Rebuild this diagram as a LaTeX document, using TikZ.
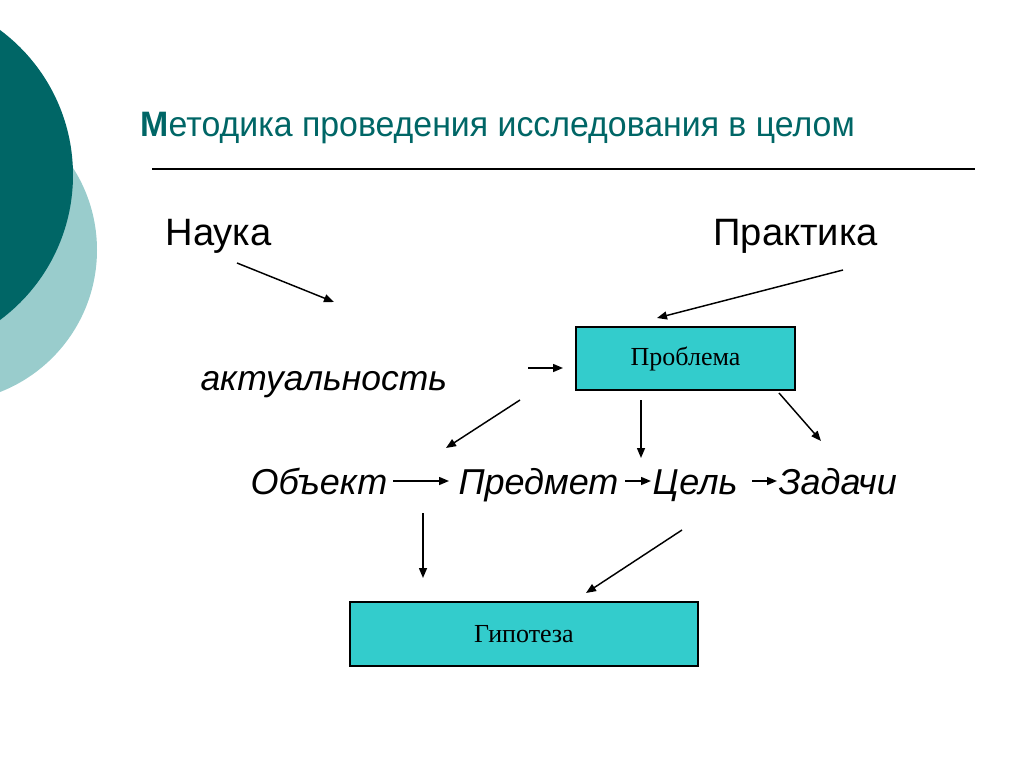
\documentclass[tikz,border=0pt]{standalone}
\usepackage{fontspec}
\setmainfont{Liberation Sans}
\newfontfamily\boxfont{Liberation Serif}
\usetikzlibrary{arrows.meta}
\definecolor{darkteal}{RGB}{0,102,102}
\definecolor{lightteal}{RGB}{153,204,204}
\definecolor{boxteal}{RGB}{51,204,204}
\tikzset{every picture/.style={line width=0.75pt}}
\tikzset{
  arr/.style={-{Triangle[length=7.5pt,width=6pt]}, line width=1.1pt},
  word/.style={anchor=base west, inner sep=0pt, font=\fontsize{28.6}{30}\selectfont},
  wordit/.style={anchor=base west, inner sep=0pt, font=\fontsize{27}{30}\selectfont\itshape},
  tealbox/.style={draw, fill=boxteal, line width=0.9pt, outer sep=0pt, font=\boxfont\fontsize{19.5}{21}\selectfont},
}

\begin{document}
\begin{tikzpicture}[x=0.75pt,y=0.75pt,yscale=-1,xscale=1]
\useasboundingbox (0,0) rectangle (1024,767);
%Circles
\begin{scope}
\clip (0,0) rectangle (1024,767);
\fill [lightteal] (-55.4,250) circle [radius=152.4];
\fill [darkteal] (-107.5,175) circle [radius=180.5];
\end{scope}
% Title
\node (title) [anchor=base west, inner sep=0pt, text=darkteal, font=\fontsize{26.5}{28}\selectfont] at (140,136) {\scalebox{0.958}[1]{{\bfseries М}етодика проведения исследования в целом}};
%Straight Lines
\coordinate (rulea) at (152,169);
\coordinate (ruleb) at (975,169);
\draw [line width=1.1pt] (rulea) -- (ruleb);
% Text Node
\node (nauka) [word] at (165,245) {Наука};
\node (praktika) [word] at (713,245) {Практика};
\node (aktual) [wordit, font=\fontsize{26.6}{30}\selectfont\itshape] at (200,390) {актуальность};
\node (obekt) [wordit] at (250,494) {Объект};
\node (predmet) [wordit] at (458,494) {Предмет};
\node (cel) [wordit] at (652,494) {Цель};
\node (zadachi) [wordit] at (778,494) {Задачи};
% Boxes
\node (problema) [tealbox, minimum width=164.25pt, minimum height=47.25pt] at (685.5,358.5) {Проблема};
\node (gipoteza) [tealbox, minimum width=261pt, minimum height=48pt] at (524,634) {Гипотеза};
% Arrows
\coordinate (a1s) at (237,263); \coordinate (a1e) at (334,302);
\coordinate (a2s) at (843,270); \coordinate (a2e) at (657,318);
\coordinate (a3s) at (528,368); \coordinate (a3e) at (563,368);
\coordinate (a4s) at (520,400); \coordinate (a4e) at (446,448);
\coordinate (a5s) at (641,400); \coordinate (a5e) at (641,458);
\coordinate (a6s) at (779,393); \coordinate (a6e) at (821,441);
\coordinate (a7s) at (393,481); \coordinate (a7e) at (449,481);
\coordinate (a8s) at (625,481); \coordinate (a8e) at (651,481);
\coordinate (a9s) at (752,481); \coordinate (a9e) at (777,481);
\coordinate (a10s) at (423,513); \coordinate (a10e) at (423,578);
\coordinate (a11s) at (682,530); \coordinate (a11e) at (586,593);
\foreach \i in {1,...,11}
  \draw [arr] (a\i s) -- (a\i e);
\end{tikzpicture}
\end{document}
